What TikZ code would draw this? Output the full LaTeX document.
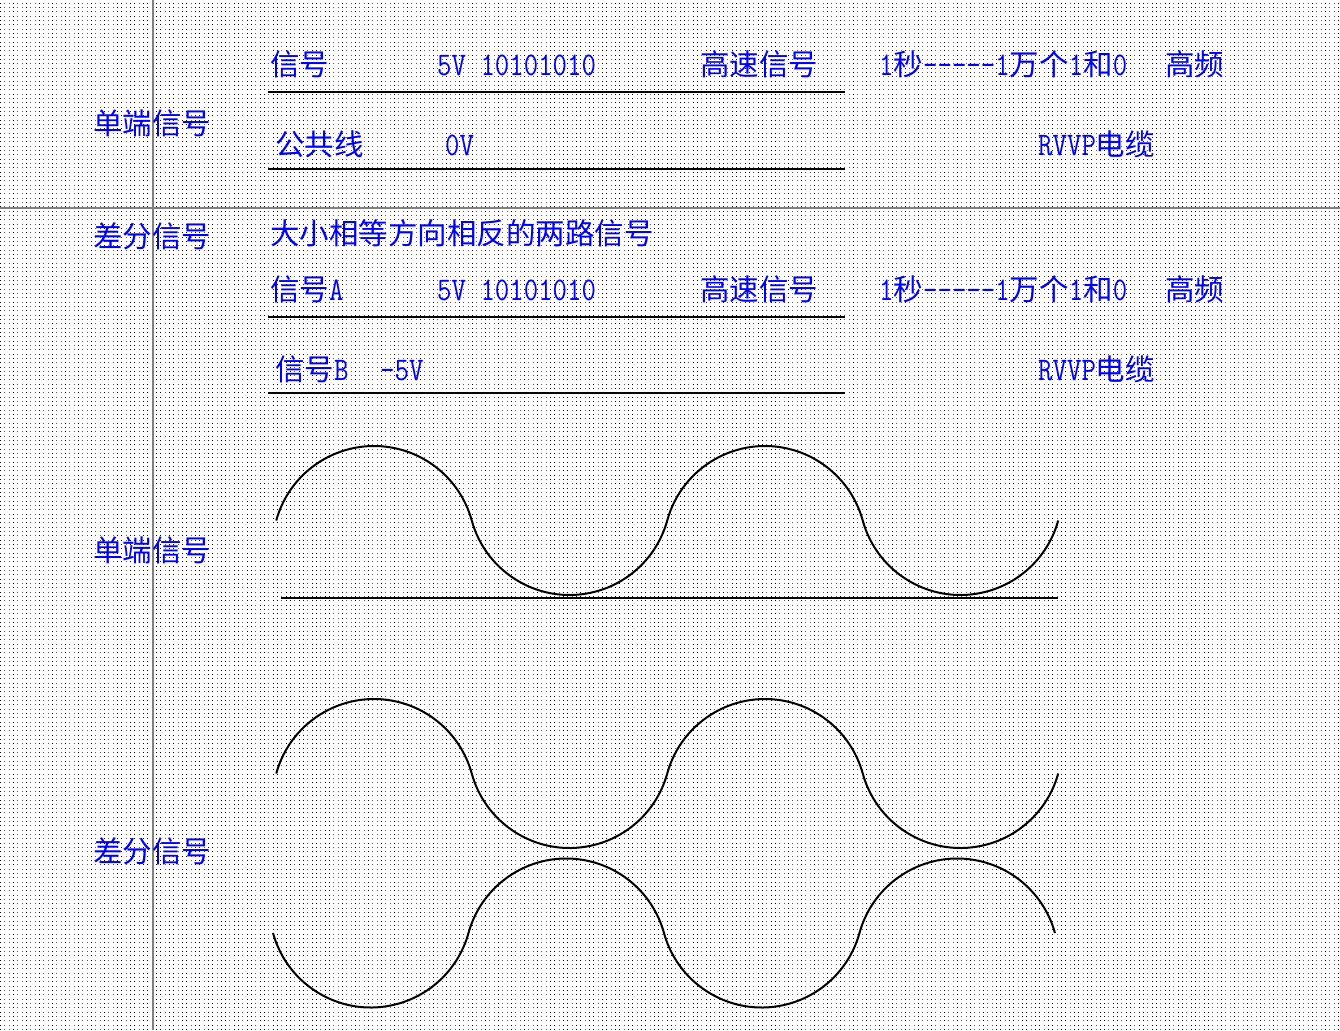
\documentclass[tikz,border=0pt]{standalone}
\usepackage{fontspec}
\newfontfamily\cjk{Noto Sans CJK SC}
\newfontfamily\latfont[FakeStretch=0.85]{Latin Modern Mono}
\newcommand\lat[1]{{\latfont\fontsize{33}{34}\selectfont #1}}
\usetikzlibrary{patterns}
\pgfdeclarepatternformonly{griddots}{\pgfqpoint{0pt}{0pt}}{\pgfqpoint{1pt}{1pt}}{\pgfqpoint{4.33pt}{4.33pt}}{\pgfpathrectangle{\pgfqpoint{0pt}{0pt}}{\pgfqpoint{1pt}{1pt}}\pgfusepath{fill}}

\begin{document}
\begin{tikzpicture}[x=1pt,y=-1pt]
    \tikzstyle{every node}=[anchor=base west, inner sep=0pt, text=blue, font=\cjk\fontsize{29.5}{32}\selectfont]
    \tikzstyle{wire}=[line width=2pt]
    \tikzstyle{crest}=[start angle=195.38, end angle=344.62, radius=101.38]
    \tikzstyle{dip}=[start angle=164.62, end angle=15.38, radius=101.38]
    \useasboundingbox (0,0) rectangle (1340,1030);
    \fill[white] (0,0) rectangle (1340,1030);
    \fill[pattern=griddots] (0,0) rectangle (1340,1030);
    \draw[gray, line width=1.2pt] (153,0) -- (153,1030) (0,208) -- (1340,208);

    \node (single) at (93,135) {单端信号};
    \node (sig) at (270,76) {信号};
    \node (sigv) at (437,76) {\lat{5V 10101010}};
    \node (sigfast) at (700,76) {高速信号};
    \node (sigrate) at (879,76) {\lat{1}秒\lat{—————1}万个\lat{1}和\lat{0}};
    \node (sighf) at (1165,76) {高频};
    \node (com) at (275,155) {公共线};
    \node (comv) at (445,155) {\lat{0V}};
    \node (comcab) at (1038,155) {\lat{RVVP}电缆};
    \draw[wire] (268,92) -- (845,92);
    \draw[wire] (268,168.5) -- (845,168.5);

    \node (diff) at (93,247) {差分信号};
    \node (note) at (270,244) {大小相等方向相反的两路信号};
    \node (siga) at (270,300) {信号\lat{A}};
    \node (sigav) at (437,300) {\lat{5V 10101010}};
    \node (sigafast) at (700,300) {高速信号};
    \node (sigarate) at (879,300) {\lat{1}秒\lat{—————1}万个\lat{1}和\lat{0}};
    \node (sigahf) at (1165,300) {高频};
    \node (sigb) at (275,380) {信号\lat{B}};
    \node (sigbv) at (380,380) {\lat{-5V}};
    \node (sigbcab) at (1038,380) {\lat{RVVP}电缆};
    \draw[wire] (268,317) -- (845,317);
    \draw[wire] (268,393) -- (845,393);

    \node (wsingle) at (93,561) {单端信号};
    \draw[wire] (276.25,520.5) arc[crest] arc[dip] arc[crest] arc[dip];
    \draw[wire] (281,598) -- (1058,598);

    \node (wdiff) at (93,862) {差分信号};
    \draw[wire] (276.25,773.5) arc[crest] arc[dip] arc[crest] arc[dip];
    \draw[wire] (273,933) arc[dip] arc[crest] arc[dip] arc[crest];
\end{tikzpicture}
\end{document}
